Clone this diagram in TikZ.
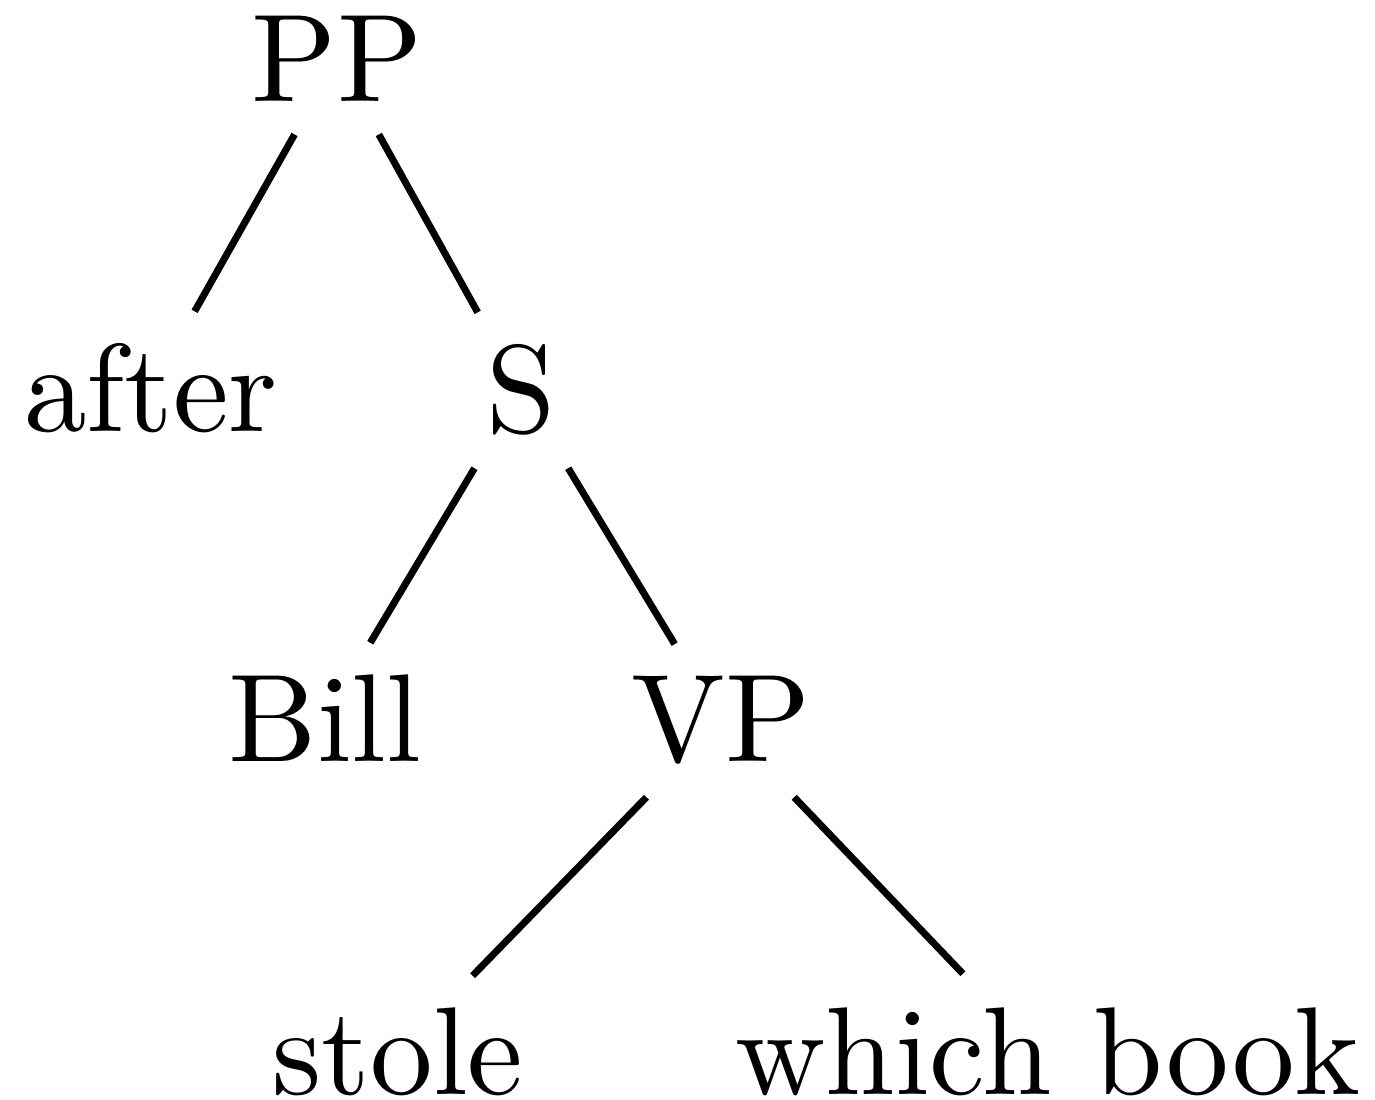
\documentclass[tikz,border=0pt]{standalone}
\begin{document}
\begin{tikzpicture}[x=0.08pt,y=-0.08pt,
  lbl/.style={anchor=base,inner xsep=8pt,inner ysep=2.6pt,outer sep=0pt,font=\fontsize{10}{12}\selectfont},
  branch/.style={line width=0.56pt}]
\useasboundingbox (0,0) rectangle (1375,1100);
\clip (0,0) rectangle (1375,1100);
\node[lbl] (pp) at (337,102) {PP};
\node[lbl] (after) at (151,432) {after};
\node[lbl] (s) at (521,433) {S};
\node[lbl] (bill) at (325,762) {Bill};
\node[lbl] (vp) at (721,762) {VP};
\node[lbl] (stole) at (398,1095) {stole};
\node[lbl] (wb) at (1048,1095) {which book};
\draw[branch] (pp) -- (after);
\draw[branch] (pp) -- (s);
\draw[branch] (s) -- (bill);
\draw[branch] (s) -- (vp);
\draw[branch] (vp) -- (stole);
\draw[branch,shorten >=8.7pt] (vp) -- ([xshift=-0.8pt]wb.center);
\end{tikzpicture}
\end{document}
